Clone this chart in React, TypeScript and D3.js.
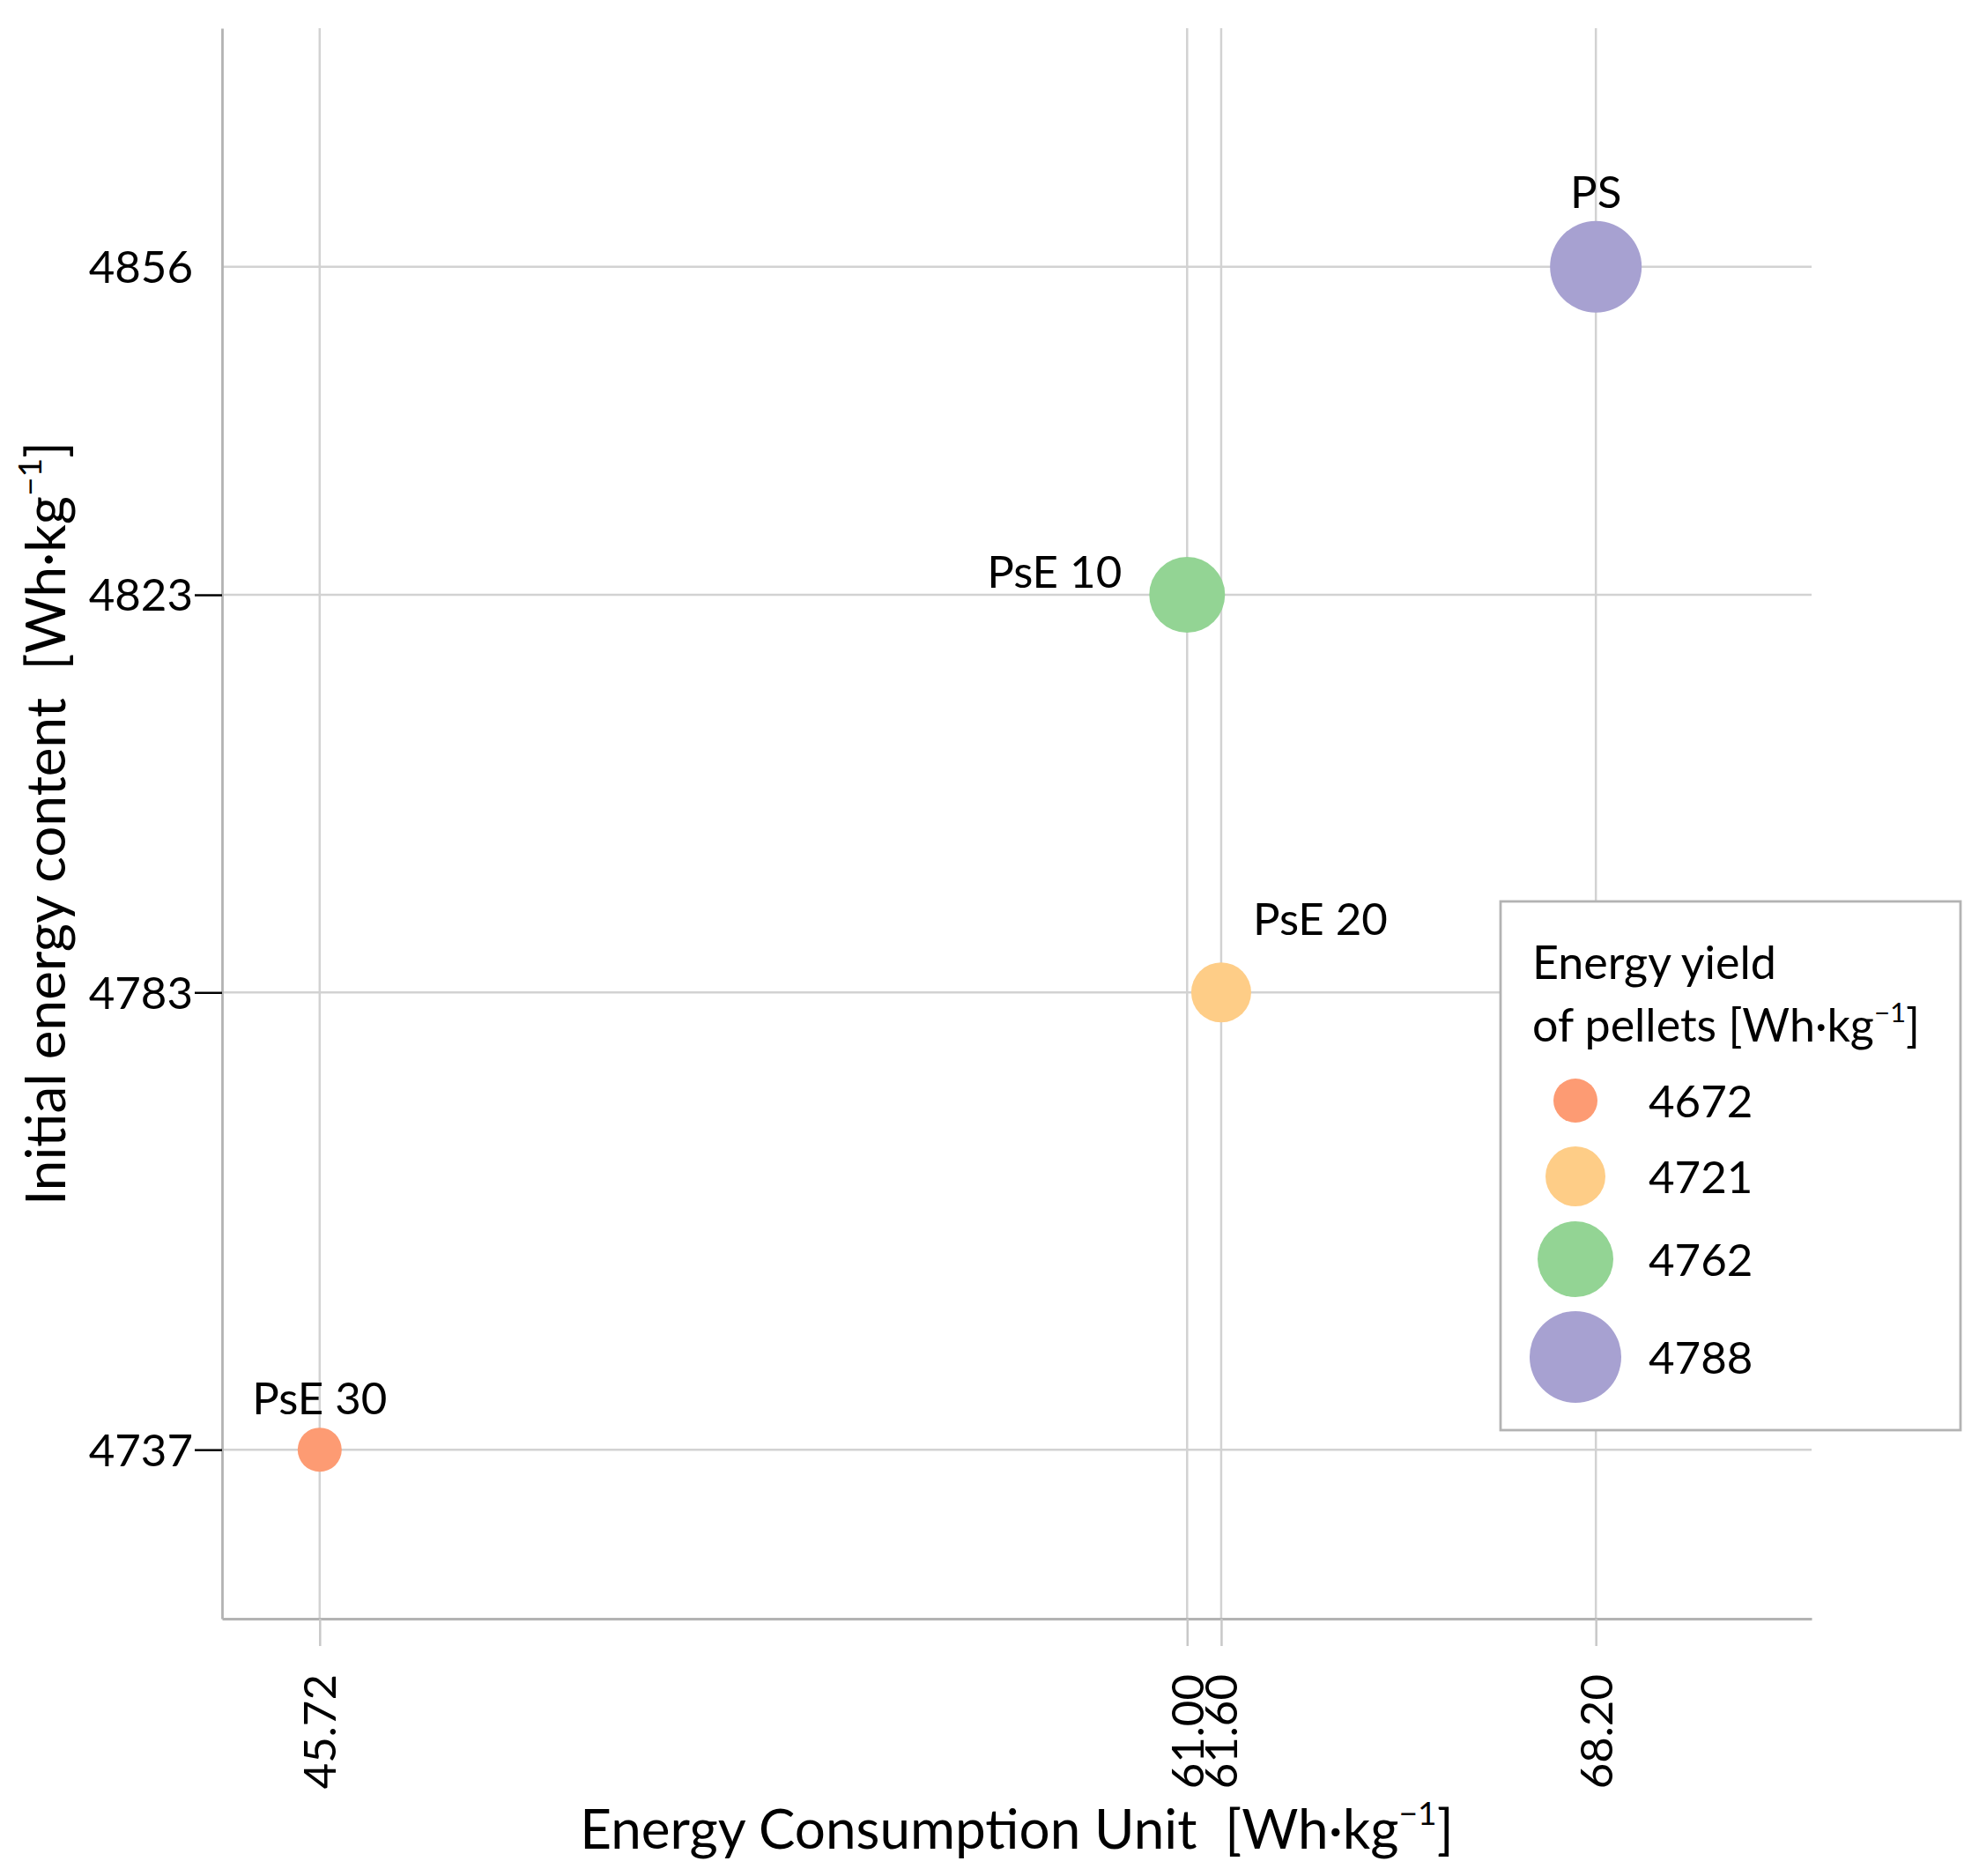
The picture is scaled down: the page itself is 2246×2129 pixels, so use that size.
import { useEffect, useRef } from 'react'
import * as d3 from 'd3'

// data
const samples = ['PS', 'PsE 10', 'PsE 20', 'PsE 30']
const energyConsumption = [68.2, 61.0, 61.6, 45.72]
const initialEnergy = [4856, 4823, 4783, 4737]
const energyYield = [4788, 4762, 4721, 4672]

const yieldLevels = [4672, 4721, 4762, 4788]
const yieldColors = ['#fd9b73', '#fecd87', '#93d494', '#a7a1d1']

const xTicks = [45.72, 61.0, 61.6, 68.2]
const yTicks = [4737, 4783, 4823, 4856]
const yTicksWithMark = [4737, 4783, 4823]

// where each point label sits relative to its bubble
const labelPlacement: Record<string, { anchor: string; side: string }> = {
  'PS': { anchor: 'middle', side: 'top' },
  'PsE 10': { anchor: 'end', side: 'left' },
  'PsE 20': { anchor: 'start', side: 'topright' },
  'PsE 30': { anchor: 'middle', side: 'top' },
}

const W = 2246, H = 2129
const m = { l: 252, r: W - 2056, t: 32, b: H - 1837 }
const FONT = 'Lato, "Open Sans", sans-serif'
const FS = 51, LFS = 52, TFS = 62

function unitText(sel: d3.Selection<SVGTextElement, unknown, null, undefined>, prefix: string, fs: number) {
  const up = fs * 0.43
  sel.append('tspan').text(prefix + '[Wh·kg')
  sel.append('tspan').attr('font-size', fs * 0.6).attr('dy', -up).text('−1')
  sel.append('tspan').attr('dy', up).text(']')
}

export default function App() {
  const ref = useRef<SVGSVGElement>(null)

  useEffect(() => {
    const svg = d3.select(ref.current!)
    svg.selectAll('*').remove()
    svg.attr('width', W).attr('height', H)
    svg.append('rect').attr('width', W).attr('height', H).attr('fill', '#fff')

    const x = d3.scaleLinear().domain([44, 72]).range([m.l, W - m.r])
    const y = d3.scaleLinear().domain([4720, 4880]).range([H - m.b, m.t])
    const rScale = d3.scalePoint<number>().domain(yieldLevels).range([25, 52])
    const color = d3.scaleOrdinal<number, string>().domain(yieldLevels).range(yieldColors)

    // gridlines
    svg.append('g').selectAll('line').data(yTicks).enter().append('line')
      .attr('x1', m.l).attr('x2', W - m.r).attr('y1', d => y(d)).attr('y2', d => y(d))
      .attr('stroke', '#d2d2d2').attr('stroke-width', 2.5)
    svg.append('g').selectAll('line').data(xTicks).enter().append('line')
      .attr('y1', m.t).attr('y2', H - m.b).attr('x1', d => x(d)).attr('x2', d => x(d))
      .attr('stroke', '#d2d2d2').attr('stroke-width', 2.5)

    // x axis
    const gx = svg.append('g').attr('transform', `translate(0,${H - m.b})`)
      .call(d3.axisBottom(x).tickValues(xTicks).tickSize(31).tickSizeOuter(0).tickPadding(32).tickFormat(d3.format('.2f')))
    gx.select('.domain').attr('stroke', '#b3b3b3').attr('stroke-width', 2.8)
    gx.selectAll('.tick line').attr('stroke', '#c8c8c8').attr('stroke-width', 2.5)
    gx.selectAll('.tick text')
      .attr('font-family', FONT).attr('font-size', FS).attr('fill', '#000')
      .attr('transform', 'rotate(-90)').attr('text-anchor', 'end')
      .attr('x', -63).attr('y', 0).attr('dy', '0.35em')

    // y axis
    const gy = svg.append('g').attr('transform', `translate(${m.l},0)`)
      .call(d3.axisLeft(y).tickValues(yTicks).tickSize(31).tickSizeOuter(0).tickPadding(2).tickFormat(d3.format('d')))
    gy.select('.domain').attr('stroke', '#b3b3b3').attr('stroke-width', 2.8)
    gy.selectAll<SVGGElement, number>('.tick').select('line')
      .attr('stroke', d => yTicksWithMark.includes(d) ? '#000' : 'none').attr('stroke-width', 2.5)
    gy.selectAll('.tick text').attr('font-family', FONT).attr('font-size', FS).attr('fill', '#000').attr('dy', '0.35em')

    // bubbles
    const pts = samples.map((s, i) => ({ s, cx: x(energyConsumption[i]), cy: y(initialEnergy[i]), r: rScale(energyYield[i])!, c: color(energyYield[i]) }))
    svg.append('g').selectAll('circle').data(pts).enter().append('circle')
      .attr('cx', d => d.cx).attr('cy', d => d.cy).attr('r', d => d.r).attr('fill', d => d.c)

    // point labels
    svg.append('g').selectAll('text').data(pts).enter().append('text')
      .attr('font-family', FONT).attr('font-size', FS).attr('fill', '#000')
      .attr('text-anchor', d => labelPlacement[d.s].anchor)
      .attr('x', d => {
        const p = labelPlacement[d.s].side
        return p === 'left' ? d.cx - d.r - 31 : p === 'topright' ? d.cx + d.r + 2 : d.cx
      })
      .attr('y', d => {
        const p = labelPlacement[d.s].side
        return p === 'left' ? d.cy - 8 : p === 'topright' ? d.cy - d.r - 31 : d.cy - d.r - 15
      })
      .text(d => d.s)

    // axis titles
    const xt = svg.append('text').attr('x', (m.l + W - m.r) / 2).attr('y', 2098)
      .attr('text-anchor', 'middle').attr('font-family', FONT).attr('font-size', TFS)
      .style('white-space', 'pre')
    unitText(xt, 'Energy Consumption Unit  ', TFS)
    const yt = svg.append('text').attr('transform', `translate(74,${(m.t + H - m.b) / 2}) rotate(-90)`)
      .attr('text-anchor', 'middle').attr('font-family', FONT).attr('font-size', TFS)
      .style('white-space', 'pre')
    unitText(yt, 'Initial energy content  ', TFS)

    // legend
    const lg = svg.append('g')
    lg.append('rect').attr('x', 1703).attr('y', 1023).attr('width', 2225 - 1703).attr('height', 1623 - 1023)
      .attr('fill', '#fff').attr('stroke', '#b3b3b3').attr('stroke-width', 2.8)
    lg.append('text').attr('x', 1739).attr('y', 1111).attr('font-family', FONT).attr('font-size', LFS).text('Energy yield')
    const lt = lg.append('text').attr('x', 1739).attr('y', 1182).attr('font-family', FONT).attr('font-size', LFS)
    unitText(lt, 'of pellets ', LFS)

    let cursor = 1206
    yieldLevels.forEach(v => {
      const r = rScale(v)!
      const h = Math.max(86, 2 * r + 16)
      const cy = cursor + h / 2
      cursor += h
      lg.append('circle').attr('cx', 1788).attr('cy', cy).attr('r', r).attr('fill', color(v))
      lg.append('text').attr('x', 1871).attr('y', cy).attr('dy', '0.38em')
        .attr('font-family', FONT).attr('font-size', FS).text(String(v))
    })
  }, [])

  return <svg ref={ref} style={{ position: 'absolute', left: 0, top: 0 }} />
}
